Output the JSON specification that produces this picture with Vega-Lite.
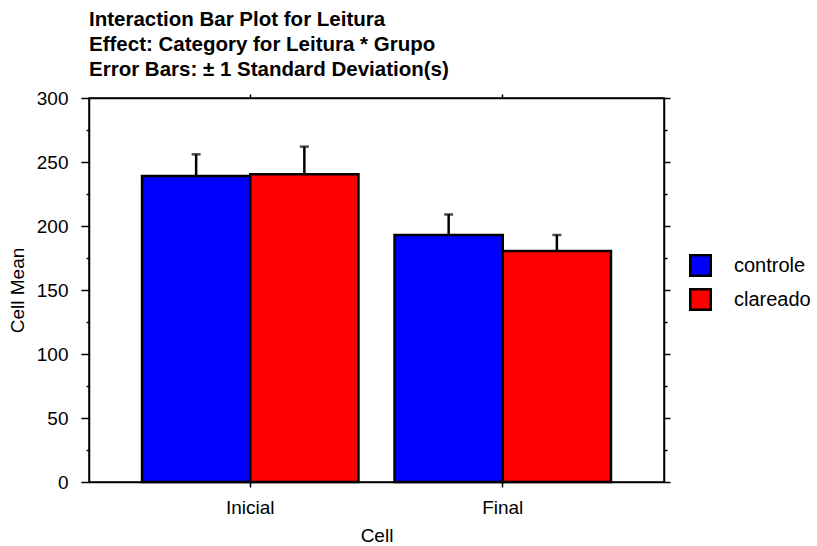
{
  "$schema": "https://vega.github.io/schema/vega-lite/v6.json",
  "autosize": {"type": "none"},
  "width": 575,
  "height": 384,
  "padding": {"left": 89, "top": 98, "right": 153, "bottom": 64},
  "background": "white",
  "config": {
    "font": "Liberation Sans",
    "view": {"stroke": "black", "strokeWidth": 1.5},
    "axis": {"domainColor": "black", "tickColor": "black", "labelColor": "black", "titleColor": "black", "domainWidth": 1.5, "tickWidth": 1.5, "labelFontSize": 19, "titleFontSize": 19, "titleFontWeight": "normal", "grid": false}
  },
  "title": {
    "text": ["Interaction Bar Plot for Leitura", "Effect: Category for Leitura * Grupo", "Error Bars: ± 1 Standard Deviation(s)"],
    "anchor": "start",
    "frame": "group",
    "fontSize": 20.5,
    "fontWeight": "bold",
    "lineHeight": 25,
    "offset": 9,
    "color": "black"
  },
  "data": {
    "values": [
      {"Cell": "Inicial", "Grupo": "controle", "mean": 239, "upper": 256},
      {"Cell": "Inicial", "Grupo": "clareado", "mean": 240.5, "upper": 262},
      {"Cell": "Final", "Grupo": "controle", "mean": 193, "upper": 209},
      {"Cell": "Final", "Grupo": "clareado", "mean": 180.5, "upper": 193}
    ]
  },
  "encoding": {
    "x": {"field": "Cell", "type": "nominal", "sort": ["Inicial", "Final"],
      "scale": {"paddingInner": 0.1429, "paddingOuter": 0.21}},
    "xOffset": {"field": "Grupo", "type": "nominal", "sort": ["controle", "clareado"],
      "scale": {"paddingInner": 0, "paddingOuter": 0}}
  },
  "layer": [
    {
      "mark": {"type": "bar", "stroke": "black", "strokeWidth": 2.5},
      "encoding": {
        "x": {"field": "Cell", "type": "nominal", "sort": ["Inicial", "Final"],
          "scale": {"paddingInner": 0.1429, "paddingOuter": 0.21},
          "axis": {"orient": "bottom", "labelAngle": 0, "tickSize": 5, "labelPadding": 11, "title": "Cell", "titlePadding": 9}},
        "y": {"field": "mean", "type": "quantitative",
          "scale": {"domain": [0, 300], "nice": false, "zero": true},
          "axis": {"orient": "left", "title": "Cell Mean", "titlePadding": 9,
            "values": [0, 25, 50, 75, 100, 125, 150, 175, 200, 225, 250, 275, 300],
            "labelExpr": "datum.value % 50 === 0 ? datum.label : ''",
            "tickSize": {"condition": {"test": "datum.value % 50 === 0", "value": 8}, "value": 3},
            "labelPadding": 13}},
        "color": {"field": "Grupo", "type": "nominal", "sort": ["controle", "clareado"],
          "scale": {"domain": ["controle", "clareado"], "range": ["#0000FF", "#FF0000"]},
          "legend": {"orient": "none", "legendX": 600, "legendY": 156, "title": null,
            "symbolType": "square", "symbolSize": 420, "symbolStrokeColor": "black", "symbolStrokeWidth": 2.5,
            "symbolOpacity": 1,
            "labelFontSize": 20, "labelColor": "black", "labelOffset": 22, "rowPadding": 3}}
      }
    },
    {
      "mark": {"type": "rule", "stroke": "black", "strokeWidth": 2.5},
      "encoding": {
        "x": {"field": "Cell", "type": "nominal", "sort": ["Inicial", "Final"],
          "scale": {"paddingInner": 0.1429, "paddingOuter": 0.21},
          "axis": {"orient": "top", "labels": false, "title": null, "tickSize": 4}},
        "y": {"field": "mean", "type": "quantitative",
          "axis": {"orient": "right", "labels": false, "title": null,
            "values": [0, 25, 50, 75, 100, 125, 150, 175, 200, 225, 250, 275, 300],
            "tickSize": {"condition": {"test": "datum.value % 50 === 0", "value": 6}, "value": 3}}},
        "y2": {"field": "upper"}
      }
    },
    {
      "mark": {"type": "tick", "color": "black", "thickness": 2.5, "size": 9},
      "encoding": {
        "x": {"field": "Cell", "type": "nominal", "sort": ["Inicial", "Final"], "axis": null},
        "y": {"field": "upper", "type": "quantitative", "axis": null}
      }
    }
  ],
  "resolve": {"axis": {"x": "independent", "y": "independent"}}
}
